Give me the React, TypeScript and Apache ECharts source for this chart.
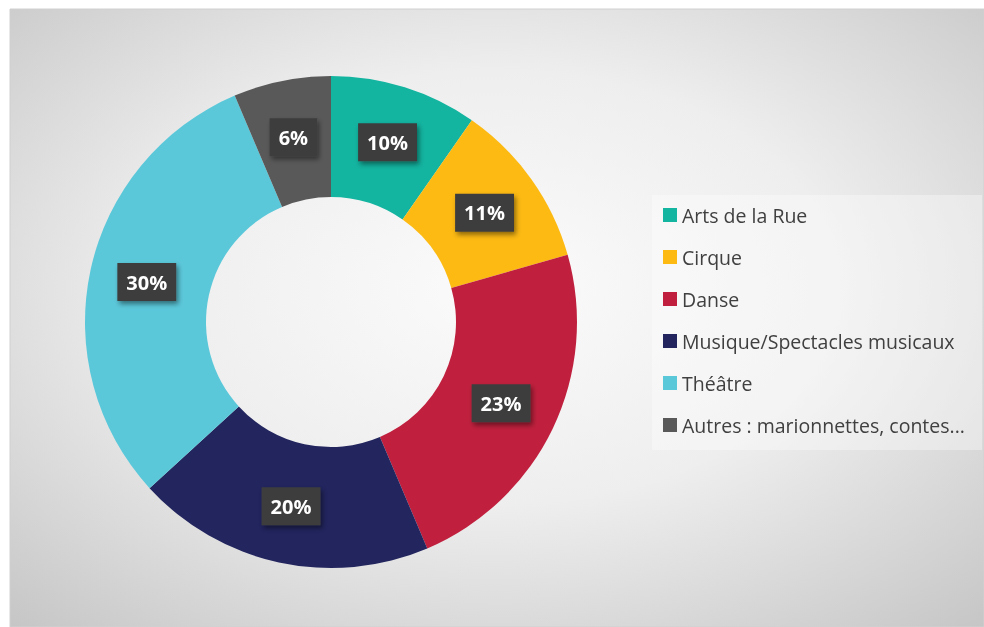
import React, { useEffect, useRef } from "react";
import * as echarts from "echarts";

const categories = [
  "Arts de la Rue",
  "Cirque",
  "Danse",
  "Musique/Spectacles musicaux",
  "Théâtre",
  "Autres : marionnettes, contes...",
];
const values = [9.7, 10.9, 23.0, 19.6, 30.4, 6.4];
const colors = ["#13B4A0", "#FDBA13", "#C0203D", "#22255E", "#5BC8DA", "#595959"];

export default function App() {
  const ref = useRef<HTMLDivElement>(null);
  useEffect(() => {
    const chart = echarts.init(ref.current!, null, { renderer: "svg" });
    chart.setOption({
      animation: false,
      graphic: [
        {
          type: "rect",
          shape: { x: 10, y: 9, width: 974, height: 618 },
          style: {
            fill: {
              type: "radial",
              x: 0.5,
              y: 0.45,
              r: 0.78,
              colorStops: [
                { offset: 0, color: "#fbfbfb" },
                { offset: 0.45, color: "#eeeeee" },
                { offset: 1, color: "#c2c2c2" },
              ],
            },
            stroke: "#d0d0d0",
            lineWidth: 1,
          },
          z: -10,
        },
        {
          type: "rect",
          shape: { x: 652, y: 195, width: 330, height: 255 },
          style: { fill: "rgba(255,255,255,0.35)" },
          z: -5,
        },
      ],
      legend: {
        orient: "vertical",
        left: 653,
        top: 195,
        padding: [9, 10, 14, 10],
        icon: "rect",
        itemWidth: 14,
        itemHeight: 14,
        itemGap: 20,
        textStyle: {
          fontFamily: "Open Sans",
          fontSize: 19.5,
          lineHeight: 22,
          color: "#404040",
          padding: [0, 0, 0, 0],
        },
        data: categories,
      },
      series: [
        {
          type: "pie",
          center: [331, 322],
          radius: [125, 246],
          startAngle: 90,
          clockwise: true,
          itemStyle: { borderWidth: 0 },
          label: {
            show: true,
            position: "inside",
            formatter: (p: any) => Math.round(p.percent) + "%",
            color: "#ffffff",
            fontFamily: "Open Sans",
            fontWeight: "bold",
            fontSize: 20,
            backgroundColor: "#3d3d3d",
            padding: [10, 9, 8, 9],
            shadowColor: "rgba(0,0,0,0.45)",
            shadowBlur: 5,
            shadowOffsetX: 2,
            shadowOffsetY: 3,
          },
          labelLine: { show: false },
          data: categories.map((name, i) => ({
            name,
            value: values[i],
            itemStyle: { color: colors[i] },
          })),
        },
      ],
    });
    return () => chart.dispose();
  }, []);
  return (
    <div
      ref={ref}
      style={{ position: "fixed", left: 0, top: 0, width: 984, height: 627 }}
    />
  );
}
